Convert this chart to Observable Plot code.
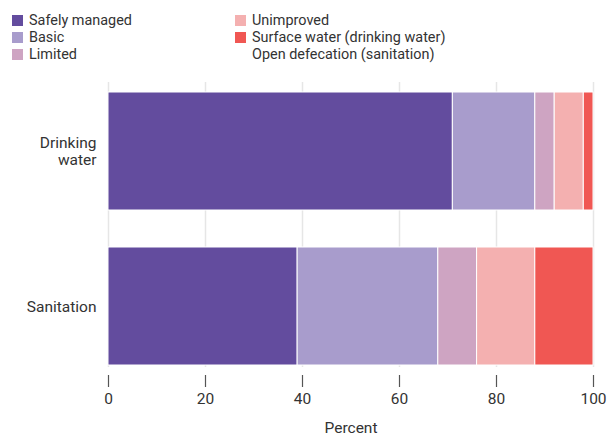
<!DOCTYPE html>
<html><head><meta charset="utf-8">
<script src="https://cdn.jsdelivr.net/npm/d3@7"></script>
<script src="https://cdn.jsdelivr.net/npm/@observablehq/plot@0.6"></script>
<style>
body{margin:0;background:#fff;font-family:Roboto,sans-serif;color:#333;}
#legend{position:relative;height:70px;font-size:15.5px;}
.item{position:absolute;line-height:17px;white-space:nowrap;transform-origin:left center;transform:scaleX(0.93);}
.sw{position:absolute;width:11px;height:11px;}
</style></head>
<body>
<div id="legend"></div>
<div id="chart"></div>
<script>
const services = ["Drinking water", "Sanitation"];
const levels = ["Safely managed", "Basic", "Limited", "Unimproved", "Surface water (drinking water)\nOpen defecation (sanitation)"];
const legendLabels = ["Safely managed", "Basic", "Limited", "Unimproved", "Surface water (drinking water)", "Open defecation (sanitation)"];
const colors = ["#634c9e", "#a89ccc", "#cea4c2", "#f4b0b0", "#f05753"];
const drinkingWater = [71, 17, 4, 6, 2];
const sanitation = [39, 29, 8, 12, 12];
const xTicks = [0, 20, 40, 60, 80, 100];

const data = [];
services.forEach((s, i) => {
  const vals = i === 0 ? drinkingWater : sanitation;
  vals.forEach((v, j) => data.push({service: s, level: levels[j], value: v}));
});

// legend
const leg = document.getElementById("legend");
const pos = [[12, 21], [12, 38], [12, 55], [235, 21], [235, 38]];
levels.forEach((l, i) => {
  const [sx, cy] = pos[i];
  const sw = document.createElement("div");
  sw.className = "sw"; sw.style.left = sx + "px"; sw.style.top = (cy - 6) + "px"; sw.style.background = colors[i];
  leg.appendChild(sw);
});
const textPos = [[29, 21], [29, 38], [29, 55], [252, 21], [252, 38], [252, 55]];
legendLabels.forEach((l, i) => {
  const t = document.createElement("div");
  t.className = "item"; t.textContent = l;
  t.style.left = textPos[i][0] + "px"; t.style.top = (textPos[i][1] - 9) + "px";
  leg.appendChild(t);
});

const chart = Plot.plot({
  width: 608, height: 366,
  marginTop: 12, marginBottom: 61, marginLeft: 108, marginRight: 15,
  style: {fontFamily: 'Roboto,sans-serif', fontSize: "15.5px", color: "#333"},
  x: {domain: [0, 100]},
  y: {domain: services, paddingInner: 0.24, paddingOuter: 0.065},
  color: {domain: levels, range: colors},
  marks: [
    Plot.gridX(xTicks, {stroke: "#e6e6e6", strokeOpacity: 1, strokeWidth: 1.5, insetBottom: 8}),
    Plot.barX(data, Plot.stackX({y: "service", x: "value", fill: "level", order: levels, stroke: "white", strokeWidth: 1})),
    Plot.axisX(xTicks, {tickSize: 12, tickPadding: 5, stroke: "#555", strokeWidth: 1.2, label: "Percent", labelAnchor: "center", labelArrow: "none", labelOffset: 57}),
    Plot.axisY({tickSize: 0, tickPadding: 12, label: null, tickFormat: d => d === "Drinking water" ? "Drinking\nwater" : d, lineHeight: 1.1})
  ]
});
document.getElementById("chart").appendChild(chart);
</script>
</body></html>
